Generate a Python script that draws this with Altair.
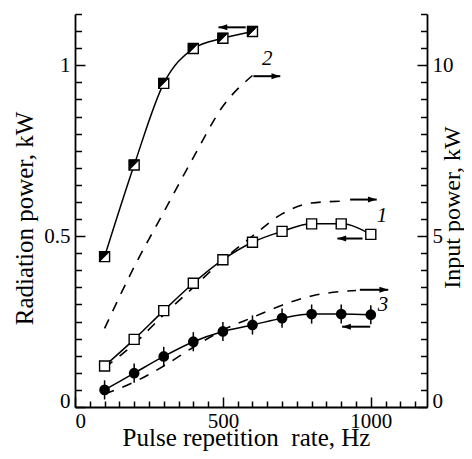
import altair as alt
import pandas as pd

# ---------------- data ----------------
freq = [100, 200, 300, 400, 500, 600, 700, 800, 900, 1000]
rad1 = [0.12, 0.198, 0.282, 0.362, 0.431, 0.482, 0.514, 0.536, 0.536, 0.505]
rad3 = [0.05, 0.099, 0.148, 0.191, 0.221, 0.240, 0.260, 0.272, 0.272, 0.270]
err3 = [0.028] * 10

freq2 = [100, 200, 300, 400, 500, 600]
rad2 = [0.44, 0.708, 0.947, 1.049, 1.079, 1.099]

# input power (right axis, kW), dashed curves
inp_freq1 = [100, 200, 300, 400, 500, 600, 700, 800, 900]
inp1 = [1.15, 1.85, 2.7, 3.5, 4.3, 5.0, 5.65, 5.97, 6.02]
inp_freq2 = [100, 200, 300, 400, 500, 600]
inp2 = [2.3, 4.1, 5.7, 7.3, 8.8, 9.7]
inp_freq3 = [100, 200, 300, 400, 500, 600, 700, 800, 900, 950]
inp3 = [0.38, 0.73, 1.2, 1.75, 2.25, 2.62, 2.98, 3.25, 3.38, 3.41]

# arrows: (tail, head, level)
arrow_left_tail = [577, 972, 998]
arrow_left_head = [485, 887, 903]
arrow_left_level = [1.111, 0.493, 0.235]      # radiation power, kW
arrow_right_tail = [603, 930, 963]
arrow_right_head = [694, 1020, 1059]
arrow_right_level = [9.68, 6.07, 3.43]        # input power, kW

curve_labels = ["2", "1", "3"]
curve_label_freq = [650, 1038, 1041]
curve_label_level = [1.018, 0.56, 0.299]

# ---------------- tables ----------------
df1 = pd.DataFrame({"rate": freq, "v": rad1})
df2 = pd.DataFrame({"rate": freq2, "v": rad2})
df3 = pd.DataFrame({"rate": freq, "v": rad3,
                    "lo": [a - b for a, b in zip(rad3, err3)],
                    "hi": [a + b for a, b in zip(rad3, err3)]})
dd = pd.concat([
    pd.DataFrame({"rate": inp_freq1, "v": inp1, "c": "1"}),
    pd.DataFrame({"rate": inp_freq2, "v": inp2, "c": "2"}),
    pd.DataFrame({"rate": inp_freq3, "v": inp3, "c": "3"}),
])
al = pd.DataFrame({"rate": arrow_left_head, "rate2": arrow_left_tail, "v": arrow_left_level})
ar = pd.DataFrame({"rate": arrow_right_head, "rate2": arrow_right_tail, "v": arrow_right_level})
lab = pd.DataFrame({"rate": curve_label_freq, "v": curve_label_level, "t": curve_labels})

FONT = "Liberation Serif"
LBL = 21
TTL = 25
zero_base = {"expr": "datum.value === 0 ? 'alphabetic' : 'middle'"}

xaxis = alt.Axis(
    values=[i * 50 for i in range(0, 24)],
    format="d",
    labelExpr="datum.value % 500 === 0 ? datum.label : ''",
    tickSize={"expr": "datum.value % 500 === 0 ? -10 : -6"},
    labelPadding=13, labelFont=FONT, labelFontSize=LBL, labelColor="black",
    title="Pulse repetition\u00a0\u00a0rate, Hz", titleFont=FONT, titleFontSize=TTL,
    titleFontWeight="normal", titleColor="black",
    titleX=171, titleY=30, titleBaseline="middle",
    domainColor="black", domainWidth=1.8, tickColor="black", tickWidth=1.5,
    grid=False,
)
X = alt.X("rate:Q", scale=alt.Scale(domain=[0, 1190], nice=False, zero=True), axis=xaxis)
X2 = alt.X2("rate2")

maj_l = "abs(datum.value*2 - round(datum.value*2)) < 1e-6"
laxis = alt.Axis(
    values=[round(i * 0.05, 2) for i in range(0, 24)],
    format="~g",
    labelExpr=maj_l + " ? datum.label : ''",
    tickSize={"expr": maj_l + " ? -10 : -6.5"},
    labelPadding=15, labelFlush=False, labelBaseline=zero_base,
    labelFont=FONT, labelFontSize=LBL, labelColor="black",
    title="Radiation power, kW", titleFont=FONT, titleFontSize=TTL,
    titleFontWeight="normal", titleColor="black",
    titleAngle=270, titleX=-51, titleY=204, titleAlign="center", titleBaseline="middle",
    domainColor="black", domainWidth=1.8, tickColor="black", tickWidth=1.5,
    grid=False,
)
YL = alt.Y("v:Q", scale=alt.Scale(domain=[0, 1.15], nice=False, zero=True), axis=laxis)

maj_r = "abs(datum.value/5 - round(datum.value/5)) < 1e-6"
raxis = alt.Axis(
    orient="right",
    values=[round(i * 0.5, 1) for i in range(0, 24)],
    format="~g",
    labelExpr=maj_r + " ? datum.label : ''",
    tickSize={"expr": maj_r + " ? -10 : -6.5"},
    labelPadding=15, labelFlush=False, labelBaseline=zero_base,
    labelFont=FONT, labelFontSize=LBL, labelColor="black",
    title="Input power, kW", titleFont=FONT, titleFontSize=24,
    titleFontWeight="normal", titleColor="black",
    titleAngle=270, titleX=25, titleY=193, titleAlign="center", titleBaseline="middle",
    domainColor="black", domainWidth=1.8, tickColor="black", tickWidth=1.5,
    grid=False,
)
YR = alt.Y("v:Q", scale=alt.Scale(domain=[0, 11.5], nice=False, zero=True), axis=raxis)

# ---------------- left (radiation) layers ----------------
line1 = alt.Chart(df1).mark_line(interpolate="monotone", color="black", strokeWidth=1.5).encode(x=X, y=YL)
line2 = alt.Chart(df2).mark_line(interpolate="monotone", color="black", strokeWidth=1.5).encode(x=X, y=YL)
line3 = alt.Chart(df3).mark_line(interpolate="monotone", color="black", strokeWidth=1.5).encode(x=X, y=YL)
err = alt.Chart(df3).mark_rule(color="black", strokeWidth=1.5).encode(
    x=X, y=YL, y2=alt.Y2("hi"))
err_lo = alt.Chart(df3).mark_rule(color="black", strokeWidth=1.5).encode(
    x=X, y=YL, y2=alt.Y2("lo"))
pts1 = alt.Chart(df1).mark_point(shape="square", filled=True, fill="white", stroke="black",
                                 strokeWidth=1.4, size=100, opacity=1).encode(x=X, y=YL)
pts2a = alt.Chart(df2).mark_point(shape="square", filled=True, fill="white", stroke="black",
                                  strokeWidth=1.4, size=100, opacity=1).encode(x=X, y=YL)
pts2b = alt.Chart(df2).mark_point(shape="M-1,-1L1,-1L-1,1Z", filled=True, fill="black",
                                  stroke="black", strokeWidth=0.8, size=100, opacity=1).encode(x=X, y=YL)
pts3 = alt.Chart(df3).mark_point(shape="circle", filled=True, color="black",
                                 size=115, opacity=1).encode(x=X, y=YL)
arrL = alt.Chart(al).mark_rule(color="black", strokeWidth=2).encode(x=X, x2=X2, y=YL)
arrLh = alt.Chart(al).mark_point(shape="M0,0L2.2,-0.75L2.2,0.75Z", filled=True, color="black",
                                 size=64, opacity=1).encode(x=X, y=YL)
labels = alt.Chart(lab).mark_text(font=FONT, fontSize=21, fontStyle="italic", color="black").encode(
    x=X, y=YL, text="t:N")

left = alt.layer(line1, line2, line3, err, err_lo, pts1, pts2a, pts2b, pts3, arrL, arrLh, labels)

# ---------------- right (input) layers ----------------
dashed = alt.Chart(dd).mark_line(interpolate="monotone", color="black", strokeWidth=1.6,
                                 strokeDash=[10, 9]).encode(x=X, y=YR, detail="c:N")
arrR = alt.Chart(ar).mark_rule(color="black", strokeWidth=2).encode(x=X, x2=X2, y=YR)
arrRh = alt.Chart(ar).mark_point(shape="M0,0L-2.2,-0.75L-2.2,0.75Z", filled=True, color="black",
                                 size=64, opacity=1).encode(x=X, y=YR)
right = alt.layer(dashed, arrR, arrRh)

chart = alt.layer(right, left).resolve_scale(y="independent").properties(
    width=352, height=393,
    padding={"left": 67, "top": 6, "right": 37, "bottom": 44},
    autosize=alt.AutoSizeParams(type="none"),
).configure_view(stroke=None)

chart.save("out.html", embed_options={"renderer": "svg", "actions": False})
